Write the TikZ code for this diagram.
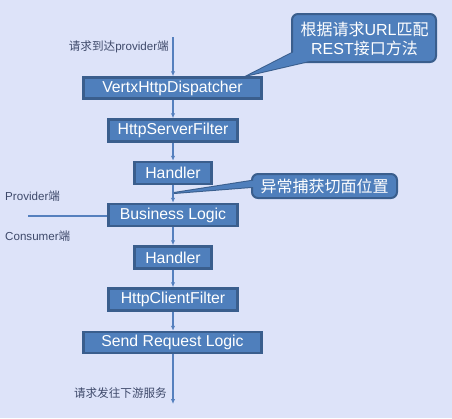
\documentclass[tikz,border=0pt]{standalone}
\usepackage{fontspec}
\setmainfont{Liberation Sans}
\newfontfamily\cjk{Noto Sans CJK SC}
\usetikzlibrary{arrows.meta}
\definecolor{bgcol}{HTML}{DDE3F9}
\definecolor{boxfill}{HTML}{4F7FBC}
\definecolor{boxline}{HTML}{3A5E8D}
\definecolor{linecol}{HTML}{5580BE}
\definecolor{labcol}{HTML}{3F4A6B}
\tikzset{
  flowbox/.style={draw=boxline, fill=boxfill, line width=2.5pt, text=white,
    inner sep=0pt, font=\fontsize{15.8}{18}\selectfont},
  wide/.style={minimum width=178pt, minimum height=21pt},
  mid/.style={minimum width=129pt, minimum height=22pt},
  small/.style={minimum width=77pt, minimum height=22pt},
  flowarrow/.style={draw=linecol, line width=1.1pt, -{Latex[length=5pt,width=4.5pt]}},
  sidelabel/.style={text=labcol, inner sep=0pt, font=\fontsize{11.6}{14}\selectfont},
  calloutbox/.style={draw=boxline, fill=boxfill, line width=2pt, rounded corners=6pt,
    inner sep=0pt},
  callouttext/.style={text=white, align=center, inner sep=0pt,
    font=\fontsize{16}{19.5}\selectfont},
  wedge/.style={draw=boxline, fill=boxfill, line width=2pt, line join=miter},
}
\begin{document}
\begin{tikzpicture}[x=1pt,y=-1pt]
\fill[bgcol] (0,0) rectangle (452,418);
\useasboundingbox (0,0) rectangle (452,418);

% flow boxes
\node[flowbox,wide]  (disp) at (172.5,88)   {VertxHttpDispatcher};
\node[flowbox,mid]   (hsf)  at (173,130.5)  {HttpServerFilter};
\node[flowbox,small] (h1)   at (173,173)    {Handler};
\node[flowbox,mid]   (bl)   at (173,215)    {Business Logic};
\node[flowbox,small] (h2)   at (173,257.5)  {Handler};
\node[flowbox,mid]   (hcf)  at (173,299.5)  {HttpClientFilter};
\node[flowbox,wide]  (srl)  at (172.5,342.5) {Send Request Logic};

\coordinate (start) at (173,37);
\coordinate (finish) at (173,404);
\coordinate (split) at (28,216);

% connectors
\draw[flowarrow] (start) -- (disp.north -| start);
\draw[flowarrow] (disp.south -| start) -- (hsf.north);
\draw[flowarrow] (hsf) -- (h1);
\draw[flowarrow] (h1) -- (bl);
\draw[flowarrow] (bl) -- (h2);
\draw[flowarrow] (h2) -- (hcf);
\draw[flowarrow] (hcf.south) -- (srl.north -| hcf.south);
\draw[flowarrow] (srl.south -| finish) -- (finish);
\draw[draw=linecol, line width=1.1pt] (split) -- (bl.west |- split);

% side labels
\node[sidelabel,anchor=east] (inlab) at (169,47) {{\cjk 请求到达}provider{\cjk 端}};
\node[sidelabel,anchor=east] (outlab) at (167,393) {\cjk 请求发往下游服务};
\node[sidelabel,anchor=west] (prov) at (5,196) {Provider{\cjk 端}};
\node[sidelabel,anchor=west] (cons) at (5,236) {Consumer{\cjk 端}};

% callout 1
\coordinate (tip1) at (249,75);
\filldraw[wedge] (310,43.8) -- (tip1) -- (330,56.2) -- cycle;
\node[calloutbox, minimum width=144pt, minimum height=48pt] (c1) at (364,38) {};
\fill[boxfill] (310,43.8) -- (tip1) -- (330,56.2) -- cycle;
\node[callouttext] (c1text) at (364.5,39)
  {{\cjk 根据请求}URL{\cjk 匹配}\\REST{\cjk 接口方法}};

% callout 2
\coordinate (tip2) at (174,193);
\filldraw[wedge] (265,178.8) -- (tip2) -- (265,185.9) -- cycle;
\node[calloutbox, minimum width=145pt, minimum height=24pt] (c2) at (324.5,186) {};
\fill[boxfill] (265,178.8) -- (tip2) -- (265,185.9) -- cycle;
\node[callouttext] (c2text) at (324.5,186.5) {\cjk 异常捕获切面位置};
\end{tikzpicture}
\end{document}
